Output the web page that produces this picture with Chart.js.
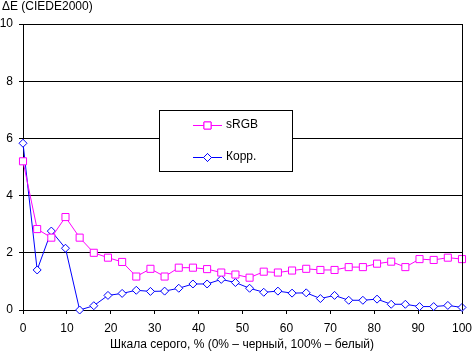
<!DOCTYPE html>
<html>
<head>
<meta charset="utf-8">
<script src="https://cdn.jsdelivr.net/npm/chart.js@4/dist/chart.umd.min.js"></script>
<style>
  html, body { margin: 0; padding: 0; background: #fff; }
  #wrap { width: 472px; height: 353px; }
</style>
</head>
<body>
<div id="wrap"><canvas id="chart" width="472" height="353"></canvas></div>
<script>
// данные с графика: 32 точки серой шкалы, от 0% до 100%
var pointCount = 32;
var srgbValues = [5.2, 2.83, 2.53, 3.25, 2.53, 2.0, 1.83, 1.68, 1.17, 1.44,
                  1.17, 1.48, 1.48, 1.43, 1.31, 1.24, 1.13, 1.34, 1.31, 1.38,
                  1.44, 1.40, 1.40, 1.50, 1.50, 1.62, 1.69, 1.50, 1.78, 1.75,
                  1.83, 1.78];
var korrValues = [5.83, 1.40, 2.76, 2.16, 0.0, 0.15, 0.51, 0.58, 0.69, 0.65,
                  0.66, 0.76, 0.91, 0.91, 1.07, 0.96, 0.76, 0.62, 0.66, 0.59,
                  0.60, 0.40, 0.51, 0.34, 0.34, 0.38, 0.20, 0.20, 0.12, 0.12,
                  0.16, 0.09];
var seriesNames = ["sRGB", "Корр."];
var yTitle = "ΔE (CIEDE2000)";
var xTitle = "Шкала серого, % (0% – черный, 100% – белый)";
var FONT = "Arial, 'Liberation Sans', sans-serif";

function toPoints(values) {                     // x = позиция на шкале в %
  var pts = [];
  for (var i = 0; i < values.length; i++) {
    pts.push({ x: i * 100 / (pointCount - 1), y: values[i] });
  }
  return pts;
}

// рамка справа, подписи осей и легенда в рамке
var extras = {
  id: "extras",
  afterDraw: function (chart) {
    var ctx = chart.ctx;
    var area = chart.chartArea;
    ctx.save();

    ctx.strokeStyle = "#000";
    ctx.lineWidth = 1;
    ctx.beginPath();
    ctx.moveTo(Math.round(area.right) + 0.5, area.top);
    ctx.lineTo(Math.round(area.right) + 0.5, area.bottom);
    ctx.stroke();

    ctx.fillStyle = "#000";
    ctx.font = "12px " + FONT;
    ctx.textBaseline = "middle";
    ctx.textAlign = "left";
    ctx.fillText(yTitle, 2, 7);
    ctx.textAlign = "center";
    ctx.fillText(xTitle, 242, 345);

    // легенда
    var bx = 159, by = 110, bw = 133, bh = 61;
    ctx.fillStyle = "#fff";
    ctx.fillRect(bx, by, bw, bh);
    ctx.strokeRect(bx + 0.5, by + 0.5, bw, bh);

    var rows = [125, 157];
    chart.data.datasets.forEach(function (ds, i) {
      var y = rows[i] + 0.5;
      ctx.strokeStyle = ds.borderColor;
      ctx.beginPath();
      ctx.moveTo(193, y);
      ctx.lineTo(222, y);
      ctx.stroke();
      Chart.helpers.drawPoint(ctx, {
        pointStyle: ds.pointStyle,
        radius: ds.pointRadius,
        rotation: 0,
        borderWidth: 1
      }, 207.5, y);
      ctx.fillStyle = "#fff";
      ctx.strokeStyle = ds.borderColor;
      ctx.fill();
      ctx.stroke();
      ctx.fillStyle = "#000";
      ctx.textAlign = "left";
      ctx.fillText(ds.label, 226, rows[i]);
    });
    ctx.restore();
  }
};

var chart = new Chart(document.getElementById("chart"), {
  type: "line",
  data: {
    datasets: [{
      label: seriesNames[0],
      data: toPoints(srgbValues),
      borderColor: "#ff00ff",
      backgroundColor: "#ffffff",
      pointBackgroundColor: "#ffffff",
      pointBorderColor: "#ff00ff",
      pointStyle: "rect",
      pointRadius: 5,
      pointBorderWidth: 1,
      borderWidth: 1,
      tension: 0,
      clip: false
    }, {
      label: seriesNames[1],
      data: toPoints(korrValues),
      borderColor: "#0000ff",
      backgroundColor: "#ffffff",
      pointBackgroundColor: "#ffffff",
      pointBorderColor: "#0000ff",
      pointStyle: "rectRot",
      pointRadius: 4,
      pointBorderWidth: 1,
      borderWidth: 1,
      tension: 0,
      clip: false
    }]
  },
  options: {
    responsive: false,
    animation: false,
    events: [],
    layout: { padding: { top: 24, right: 10, left: 0, bottom: 0 } },
    plugins: { legend: { display: false }, tooltip: { enabled: false } },
    scales: {
      x: {
        type: "linear",
        min: 0,
        max: 100,
        ticks: { stepSize: 10, color: "#000", font: { family: FONT, size: 12 }, padding: 7, maxRotation: 0 },
        grid: { drawOnChartArea: false, drawTicks: true, tickLength: 4, color: "#000" },
        border: { color: "#000" },
        afterFit: function (scale) {
          scale.height = 43;
          scale.paddingLeft = 0;
          scale.paddingRight = 10;
        }
      },
      y: {
        min: 0,
        max: 10,
        ticks: { stepSize: 2, color: "#000", font: { family: FONT, size: 12 }, padding: 6 },
        grid: { color: "#000", tickLength: 4 },
        border: { color: "#000" },
        afterFit: function (scale) { scale.width = 23; }
      }
    }
  },
  plugins: [extras]
});
</script>
</body>
</html>
